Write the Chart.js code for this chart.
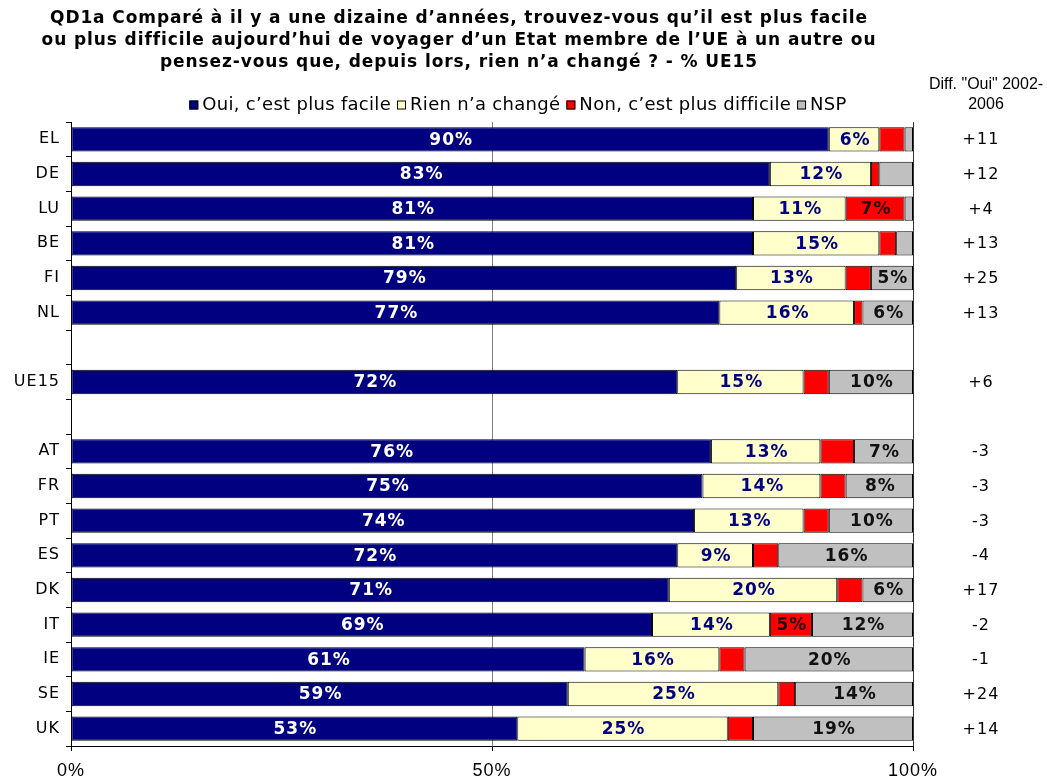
<!DOCTYPE html>
<html>
<head>
<meta charset="utf-8">
<script src="https://cdn.jsdelivr.net/npm/chart.js@4.4.1/dist/chart.umd.min.js"></script>
<style>
  html, body { margin: 0; padding: 0; background: #fff; }
  canvas { display: block; }
</style>
</head>
<body>
<canvas id="chart" width="1047" height="778"></canvas>
<script>
const titleLines = [
    'QD1a Comparé à il y a une dizaine d’années, trouvez-vous qu’il est plus facile',
    'ou plus difficile aujourd’hui de voyager d’un Etat membre de l’UE à un autre ou',
    'pensez-vous que, depuis lors, rien n’a changé ? - % UE15'
];
const categories = ['EL', 'DE', 'LU', 'BE', 'FI', 'NL', '', 'UE15', '', 'AT', 'FR', 'PT', 'ES', 'DK', 'IT', 'IE', 'SE', 'UK'];
const oui  = [90, 83, 81, 81, 79, 77, null, 72, null, 76, 75, 74, 72, 71, 69, 61, 59, 53];
const rien = [6, 12, 11, 15, 13, 16, null, 15, null, 13, 14, 13, 9, 20, 14, 16, 25, 25];
const non  = [3, 1, 7, 2, 3, 1, null, 3, null, 4, 3, 3, 3, 3, 5, 3, 2, 3];
const nsp  = [1, 4, 1, 2, 5, 6, null, 10, null, 7, 8, 10, 16, 6, 12, 20, 14, 19];
const diffs = ['+11', '+12', '+4', '+13', '+25', '+13', '', '+6', '', '-3', '-3', '-3', '-4', '+17', '-2', '-1', '+24', '+14'];
const diffHeader = ['Diff. "Oui" 2002-', '2006'];
const xTicks = [0, 50, 100];

const seriesNames = ['Oui, c’est plus facile', 'Rien n’a changé', 'Non, c’est plus difficile', 'NSP'];
const seriesColors = ['#000080', '#FFFFCC', '#FF0000', '#C0C0C0'];
const labelColors = ['#ffffff', '#000080', '#200000', '#111111'];

const FONT = '"DejaVu Sans", Verdana, sans-serif';
const ARIAL = '"Liberation Sans", Arial, sans-serif';

// un peu d'espacement entre les lettres, comme dans l'original
const spacing = {
    id: 'spacing',
    beforeDraw(chart) {
        chart.ctx.letterSpacing = '1px';
    }
};

// titre, légende, colonne "Diff" dessinés à la main
const headerPlugin = {
    id: 'header',
    afterDraw(chart) {
        const ctx = chart.ctx;
        const area = chart.chartArea;
        ctx.save();
        ctx.fillStyle = '#000';
        ctx.textBaseline = 'middle';
        ctx.textAlign = 'center';
        ctx.letterSpacing = '0.9px';
        ctx.font = 'bold 17px ' + FONT;
        titleLines.forEach((line, i) => ctx.fillText(line, 459, 19 + i * 22));

        // légende
        ctx.font = '18px ' + FONT;
        ctx.letterSpacing = '0.3px';
        ctx.textAlign = 'left';
        const items = chart.data.datasets.map(ds => ({ ds, w: ctx.measureText(ds.label).width }));
        const total = items.reduce((s, it) => s + 13 + it.w + 6, 0) - 6;
        let x = 518 - total / 2;
        const y = 105;
        items.forEach(({ ds, w }) => {
            ctx.fillStyle = ds.backgroundColor;
            ctx.fillRect(x, y - 4.5, 9, 9);
            ctx.strokeStyle = '#000';
            ctx.lineWidth = 1;
            ctx.strokeRect(x + 0.5, y - 4, 8, 8);
            ctx.fillStyle = '#000';
            ctx.fillText(ds.label, x + 13, y);
            x += 13 + w + 6;
        });

        // en-tête et valeurs "Diff"
        ctx.textAlign = 'center';
        ctx.font = '16px ' + ARIAL;
        ctx.letterSpacing = '0px';
        ctx.fillText(diffHeader[0], 986, 85);
        ctx.fillText(diffHeader[1], 986, 105);

        ctx.font = '16px ' + FONT;
        ctx.letterSpacing = '1px';
        const yScale = chart.scales.y;
        diffs.forEach((d, i) => {
            if (d) ctx.fillText(d, area.right + 68, yScale.getPixelForValue(i) + 1);
        });
        ctx.restore();
    }
};

// pourcentages dans les barres
const barLabels = {
    id: 'barLabels',
    afterDatasetsDraw(chart) {
        const ctx = chart.ctx;
        ctx.save();
        ctx.font = 'bold 17px ' + FONT;
        ctx.letterSpacing = '1px';
        ctx.textAlign = 'center';
        ctx.textBaseline = 'middle';
        chart.data.datasets.forEach((ds, di) => {
            const meta = chart.getDatasetMeta(di);
            meta.data.forEach((bar, i) => {
                const v = ds.data[i];
                if (v == null || v < 5) return;
                ctx.fillStyle = labelColors[di];
                ctx.fillText(v + '%', (bar.x + bar.base) / 2 + 1, bar.y + 1);
            });
        });
        ctx.restore();
    }
};

const ctx = document.getElementById('chart').getContext('2d');
const chart = new Chart(ctx, {
    type: 'bar',
    data: {
        labels: categories,
        datasets: [oui, rien, non, nsp].map((d, i) => ({
            label: seriesNames[i],
            data: d,
            backgroundColor: seriesColors[i],
            borderColor: '#000',
            borderWidth: 1,
            borderSkipped: false,
            categoryPercentage: 1,
            barPercentage: 0.7
        }))
    },
    options: {
        indexAxis: 'y',
        responsive: false,
        animation: false,
        devicePixelRatio: 1,
        layout: { padding: { top: 122, left: 0, right: 134, bottom: 0 } },
        plugins: {
            legend: { display: false },
            title: { display: false },
            tooltip: { enabled: false }
        },
        scales: {
            x: {
                stacked: true,
                min: 0,
                max: 100,
                afterBuildTicks: s => { s.ticks = xTicks.map(v => ({ value: v })); },
                ticks: {
                    color: '#000',
                    padding: 9,
                    font: { size: 18, family: ARIAL },
                    callback: v => v + '%'
                },
                grid: {
                    color: c => (c.tick && c.tick.value === 100 ? '#333' : '#808080'),
                    tickColor: '#000',
                    tickLength: 5
                },
                border: { color: '#000' },
                afterFit: s => { s.height = 32; }
            },
            y: {
                stacked: true,
                position: 'left',
                ticks: {
                    color: '#000',
                    padding: 6,
                    font: { size: 16, family: FONT }
                },
                grid: { drawOnChartArea: false, tickColor: '#000', tickLength: 5, offset: true },
                border: { color: '#000' },
                afterFit: s => { s.width = 71; }
            }
        }
    },
    plugins: [spacing, headerPlugin, barLabels]
});
</script>
</body>
</html>
